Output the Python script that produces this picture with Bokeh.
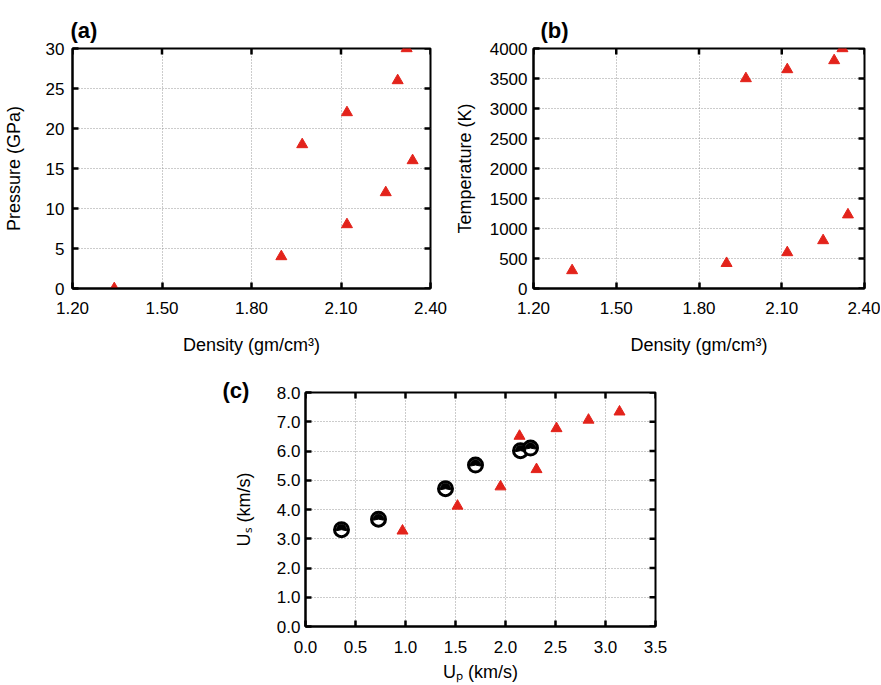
from bokeh.plotting import figure
from bokeh.layouts import column, row
from bokeh.models import FixedTicker, Spacer, Range1d
from bokeh.embed import file_html
from bokeh.resources import INLINE
import math

# ---------------- data ----------------
density = [1.34, 1.90, 1.97, 2.12, 2.12, 2.25, 2.29, 2.32, 2.34]
pressure = [0, 4, 18, 22, 8, 12, 26, 30, 16]
temperature = [300, 420, 3500, 3650, 600, 800, 3800, 4000, 1230]

up_exp = [0.36, 0.73, 1.40, 1.70, 2.15, 2.25]
us_exp = [3.31, 3.67, 4.71, 5.52, 6.01, 6.10]
up_sim = [0.97, 1.52, 1.95, 2.14, 2.31, 2.51, 2.83, 3.14]
us_sim = [3.27, 4.12, 4.78, 6.51, 5.37, 6.77, 7.06, 7.34]

dens_ticks = [1.2, 1.5, 1.8, 2.1, 2.4]
dens_labels = ["1.20", "1.50", "1.80", "2.10", "2.40"]
p_ticks = [0, 5, 10, 15, 20, 25, 30]
t_ticks = [0, 500, 1000, 1500, 2000, 2500, 3000, 3500, 4000]
up_ticks = [0.0, 0.5, 1.0, 1.5, 2.0, 2.5, 3.0, 3.5]
us_ticks = [0, 1, 2, 3, 4, 5, 6, 7, 8]

FONT = "Liberation Sans"
RED = "#e3231b"


def style(p, xticks, yticks, xlabels, ylabels, xtitle, ytitle,
          xlab_standoff=10, xtitle_standoff=12, ylab_standoff=8, ytitle_standoff=18):
    p.outline_line_color = "black"
    p.outline_line_width = 2
    p.outline_line_alpha = 1
    p.background_fill_color = "white"
    p.border_fill_color = "white"
    for g in (p.xgrid, p.ygrid):
        g.grid_line_color = "#999999"
        g.grid_line_dash = "1 2"
        g.grid_line_width = 1
    p.xgrid.ticker = FixedTicker(ticks=xticks)
    p.ygrid.ticker = FixedTicker(ticks=yticks)

    xa = p.xaxis[0]
    ya = p.yaxis[0]
    xa.ticker = FixedTicker(ticks=xticks)
    ya.ticker = FixedTicker(ticks=yticks)
    xa.major_label_overrides = {t: l for t, l in zip(xticks, xlabels)}
    ya.major_label_overrides = {t: l for t, l in zip(yticks, ylabels)}
    xa.axis_label = xtitle
    ya.axis_label = ytitle
    xa.major_label_standoff = xlab_standoff
    ya.major_label_standoff = ylab_standoff
    xa.axis_label_standoff = xtitle_standoff
    ya.axis_label_standoff = ytitle_standoff
    for a in (xa, ya):
        a.axis_line_color = "black"
        a.axis_line_width = 2
        a.major_tick_in = 6
        a.major_tick_out = 0
        a.major_tick_line_width = 2.5
        a.major_tick_line_color = "black"
        a.minor_tick_line_color = None
        a.major_label_text_font = FONT
        a.major_label_text_font_size = "17px"
        a.major_label_text_color = "black"
        a.axis_label_text_font = FONT
        a.axis_label_text_font_size = "18px"
        a.axis_label_text_font_style = "normal"
        a.axis_label_text_color = "black"

    # inward tick marks on the top and right edges (outer half clipped by the frame)
    xend = p.x_range.end
    yend = p.y_range.end
    p.scatter(xticks, [yend] * len(xticks), marker="dash", angle=math.pi / 2,
              size=12, line_color="black", line_width=2.5)
    p.scatter([xend] * len(yticks), yticks, marker="dash", angle=0,
              size=12, line_color="black", line_width=2.5)


def panel_title(p, text, offset, standoff):
    t = p.title
    t.text = text
    t.align = "left"
    t.offset = offset
    t.standoff = standoff
    t.text_font = FONT
    t.text_font_size = "22px"
    t.text_font_style = "bold"
    t.text_color = "black"
    t.vertical_align = "bottom"


# ---------------- (a) ----------------
pa = figure(width=450, height=360, output_backend="svg", toolbar_location=None,
            x_range=Range1d(1.2, 2.4), y_range=Range1d(0, 30),
            min_border_left=71, min_border_right=20, min_border_top=48, min_border_bottom=72)
panel_title(pa, "(a)", -2, 12)
style(pa, dens_ticks, p_ticks, dens_labels, [str(v) for v in p_ticks],
      "Density (gm/cm\u00b3)", "Pressure (GPa)", xlab_standoff=13, xtitle_standoff=18,
      ylab_standoff=8, ytitle_standoff=19)
pa.scatter(density, pressure, marker="triangle", size=11, fill_color=RED, line_color=RED)

# ---------------- (b) ----------------
pb = figure(width=430, height=360, output_backend="svg", toolbar_location=None,
            x_range=Range1d(1.2, 2.4), y_range=Range1d(0, 4000),
            min_border_left=83, min_border_right=16, min_border_top=48, min_border_bottom=72)
panel_title(pb, "(b)", 7, 12)
style(pb, dens_ticks, t_ticks, dens_labels, [str(v) for v in t_ticks],
      "Density (gm/cm\u00b3)", "Temperature (K)", xlab_standoff=13, xtitle_standoff=18,
      ytitle_standoff=12, ylab_standoff=6)
pb.scatter(density, temperature, marker="triangle", size=11, fill_color=RED, line_color=RED)

# ---------------- (c) ----------------
pc = figure(width=465, height=324, output_backend="svg", toolbar_location=None,
            x_range=Range1d(0, 3.5), y_range=Range1d(0, 8),
            min_border_left=90, min_border_right=25, min_border_top=32, min_border_bottom=51)
panel_title(pc, "(c)", -83, -20)
style(pc, up_ticks, us_ticks, ["%.1f" % v for v in up_ticks], ["%.1f" % v for v in us_ticks],
      "U\u209a (km/s)", "U\u209b (km/s)", xlab_standoff=14, xtitle_standoff=6,
      ylab_standoff=5, ytitle_standoff=20)
pc.scatter(up_sim, us_sim, marker="triangle", size=11, fill_color=RED, line_color=RED)
pc.scatter(up_exp, us_exp, marker="circle", size=14, fill_color="white",
           line_color="black", line_width=3)
pc.wedge(up_exp, us_exp, radius=5.2, radius_units="screen", start_angle=-0.2,
         end_angle=math.pi + 0.2, color="black")

layout = column(row(pa, pb), row(Spacer(width=215, height=324), pc))
open("out.html", "w").write(file_html(layout, INLINE))
